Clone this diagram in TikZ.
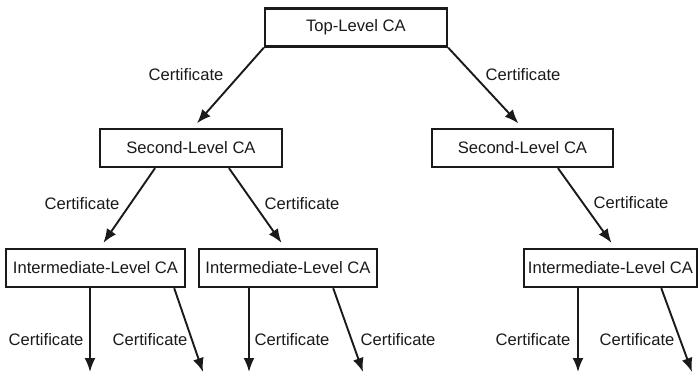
\documentclass[tikz,border=0pt]{standalone}
\usepackage{fontspec}
\setmainfont{Liberation Sans}
\usetikzlibrary{arrows.meta,positioning}
\definecolor{ink}{HTML}{1A1A1A}
\tikzset{
  canode/.style={
    draw=ink,
    line width=1.2pt,
    fill=white,
    align=center,
    minimum height=19pt,
    inner sep=2pt,
    text=ink,
    font=\fontsize{8.3}{10}\selectfont
  },
  certlabel/.style={
    inner sep=1pt,
    text=ink,
    font=\fontsize{8.3}{10}\selectfont
  },
  certarrow/.style={-{Latex[length=7pt,width=5.5pt]},line width=0.95pt,draw=ink,shorten >=3pt}
}
\begin{document}
\begin{tikzpicture}[x=0.5pt,y=-0.5pt]
  \useasboundingbox (0,0) rectangle (700,374);
  % CA boxes
  \node[canode, minimum width=91pt] (top) at (356,27.5) {Top-Level CA};
  \node[canode, minimum width=91pt] (secleft) at (191,148) {Second-Level CA};
  \node[canode, minimum width=90.5pt] (secright) at (522.5,148) {Second-Level CA};
  \node[canode, minimum width=89.5pt] (intleft) at (95.5,268) {Intermediate-Level CA};
  \node[canode, minimum width=89pt] (intmid) at (288,268) {Intermediate-Level CA};
  \node[canode, minimum width=86.5pt] (intright) at (610.5,268) {Intermediate-Level CA};
  % free ends of the lowest arrows
  \coordinate (ilv) at (90,372);
  \coordinate (ild) at (203,372);
  \coordinate (imv) at (249,372);
  \coordinate (imd) at (363,372);
  \coordinate (irv) at (578,372);
  \coordinate (ird) at (692,372);
  % arrows
  \draw[certarrow] (top.south west) -- ([xshift=1pt]secleft.north);
  \draw[certarrow] (top.south east) -- (secright.north);
  \draw[certarrow] ([xshift=-18pt]secleft.south) -- ([xshift=2.25pt]intleft.north);
  \draw[certarrow] ([xshift=19pt]secleft.south) -- ([xshift=-1.5pt]intmid.north);
  \draw[certarrow] ([xshift=17.75pt]secright.south) -- ([xshift=2.25pt]intright.north);
  \draw[certarrow,shorten >=0pt] (intleft.south -| ilv) -- (ilv);
  \draw[certarrow,shorten >=0pt] ([xshift=-6pt]intleft.south east) -- (ild);
  \draw[certarrow,shorten >=0pt] (intmid.south -| imv) -- (imv);
  \draw[certarrow,shorten >=0pt] ([xshift=-22.5pt]intmid.south east) -- (imd);
  \draw[certarrow,shorten >=0pt] (intright.south -| irv) -- (irv);
  \draw[certarrow,shorten >=0pt] ([xshift=-18.5pt]intright.south east) -- (ird);
  % labels
  \node[certlabel] (certtl) at (186,75) {Certificate};
  \node[certlabel] (certtr) at (523,75) {Certificate};
  \node[certlabel] (certsl) at (82,204) {Certificate};
  \node[certlabel] (certsm) at (302,204) {Certificate};
  \node[certlabel] (certsr) at (631,203) {Certificate};
  \node[certlabel] (certb1) at (46,340) {Certificate};
  \node[certlabel] (certb2) at (150,340) {Certificate};
  \node[certlabel] (certb3) at (292,340) {Certificate};
  \node[certlabel] (certb4) at (398,340) {Certificate};
  \node[certlabel] (certb5) at (533,340) {Certificate};
  \node[certlabel] (certb6) at (637,340) {Certificate};
\end{tikzpicture}
\end{document}
